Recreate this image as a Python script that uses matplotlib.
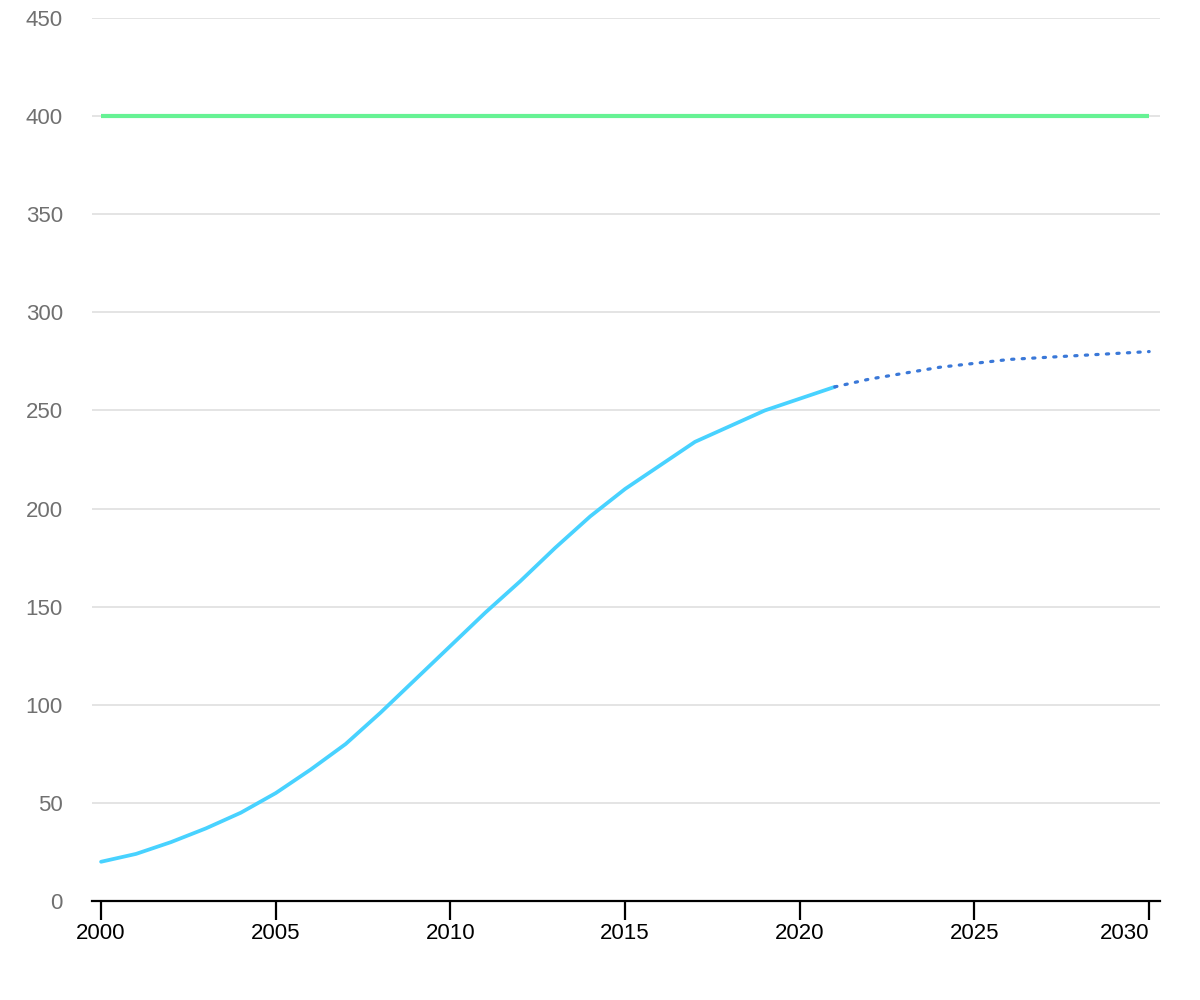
import matplotlib.pyplot as plt

plt.rcParams['font.family'] = ['Liberation Sans', 'DejaVu Sans']

# historic series
years_hist = list(range(2000, 2022))
values_hist = [20, 24, 30, 37, 45, 55, 67, 80, 96, 113, 130, 147, 163, 180,
               196, 210, 222, 234, 242, 250, 256, 262]

# projection
years_proj = list(range(2021, 2031))
values_proj = [262, 266, 269, 272, 274, 276, 277, 278, 279, 280]

# target level
years_target = [2000, 2030]
values_target = [400, 400]

x_ticks = [2000, 2005, 2010, 2015, 2020, 2025, 2030]
y_ticks = [0, 50, 100, 150, 200, 250, 300, 350, 400, 450]

fig = plt.figure(figsize=(12, 10), dpi=100)
ax = fig.add_axes([92/1200, 0.099, (1160-92)/1200, 0.883])

ax.plot(years_target, values_target, color='#66f294', lw=3.0, solid_capstyle='butt', zorder=3)
ax.plot(years_hist, values_hist, color='#48d2ff', lw=2.7, solid_capstyle='round', zorder=3)
ax.plot(years_proj, values_proj, color='#3a78d8', lw=2.3, linestyle=(0, (0.7, 2.6)),
        dash_capstyle='round', zorder=3)

ax.set_xlim(1999.74, 2030.31)
ax.set_ylim(0, 450)

ax.set_yticks(y_ticks)
ax.set_yticklabels([str(v) for v in y_ticks])
ax.set_xticks(x_ticks)
ax.set_xticklabels([str(v) for v in x_ticks])
labels = ax.get_xticklabels()
labels[-1].set_horizontalalignment('right')
labels[-1].set_x(2030.1)

ax.grid(axis='y', color='#e2e2e2', lw=1.3)
ax.set_axisbelow(True)
for s in ['top', 'right', 'left']:
    ax.spines[s].set_visible(False)
ax.spines['bottom'].set_color('black')
ax.spines['bottom'].set_linewidth(1.6)

ax.tick_params(axis='y', length=0, pad=21, labelsize=16, labelcolor='#707070')
ax.tick_params(axis='x', length=13.5, width=1.6, color='black', pad=2, labelsize=16,
               labelcolor='black')

fig.savefig('out.png', dpi=100)
